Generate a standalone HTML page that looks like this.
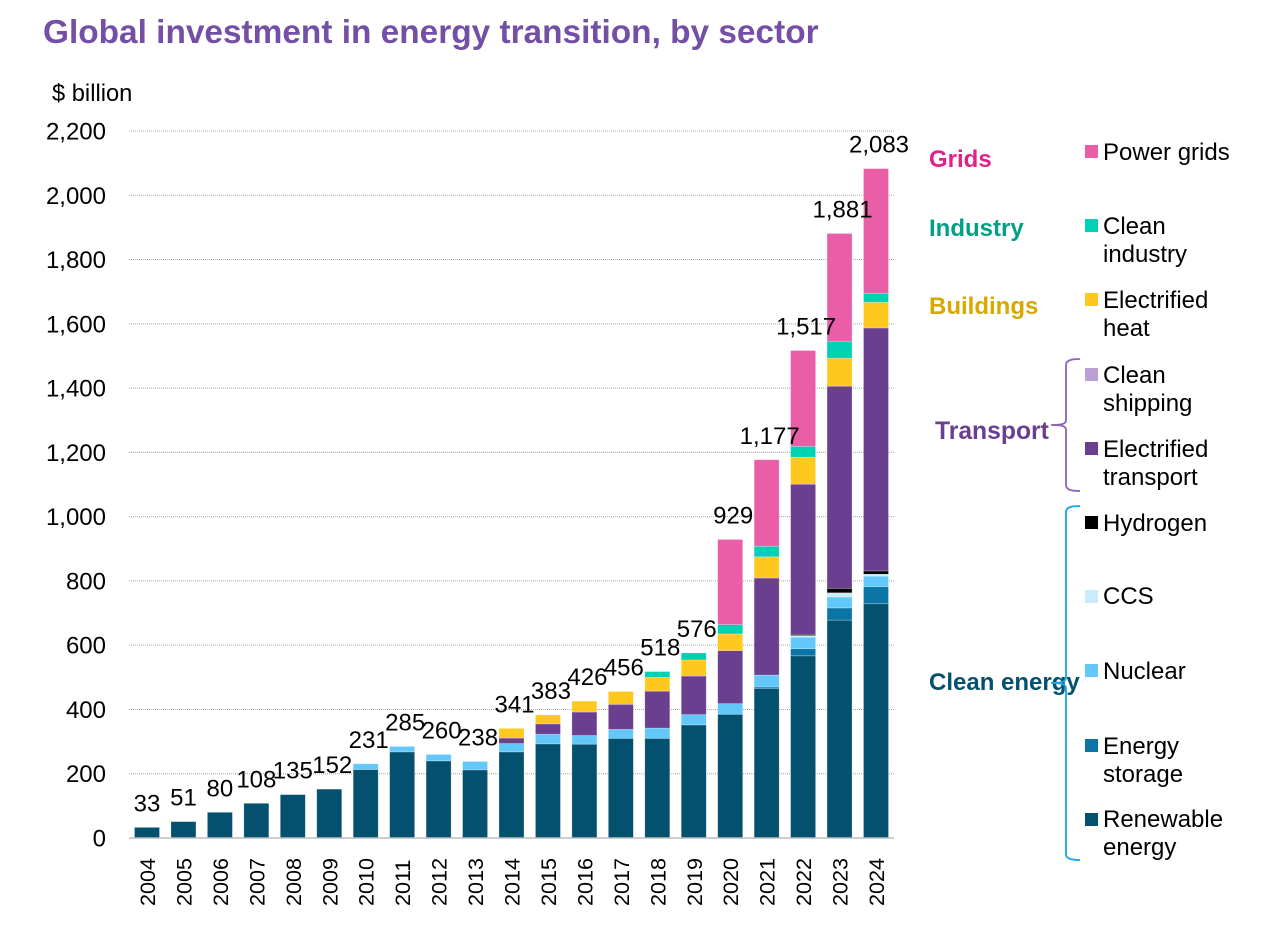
<!DOCTYPE html>
<html lang="en">
<head>
<meta charset="utf-8">
<title>Global investment in energy transition, by sector</title>
<style>
html,body{margin:0;padding:0;background:#fff;}
svg{display:block;font-family:"Liberation Sans",Arial,sans-serif;}
</style>
</head>
<body>
<svg id="chart" xmlns="http://www.w3.org/2000/svg" width="1262" height="940" viewBox="0 0 1262 940">
  <text x="43" y="43" font-size="33.4" font-weight="700" fill="#7350a5">Global investment in energy transition, by sector</text>
  <text x="52" y="101" font-size="23.7" fill="#000">$ billion</text>
  <g id="grid"></g>
  <g id="bars"></g>
  <g id="axes"></g>
  <g id="labels"></g>

  <g font-size="24" fill="#000">
    <g><rect x="1085" y="145" width="13" height="13" fill="#ea5ea8"/><text x="1103" y="160">Power grids</text></g>
    <g><rect x="1085" y="219" width="13" height="13" fill="#00d1b2"/><text x="1103" y="234">Clean</text><text x="1103" y="262">industry</text></g>
    <g><rect x="1085" y="293" width="13" height="13" fill="#ffc81e"/><text x="1103" y="308">Electrified</text><text x="1103" y="336">heat</text></g>
    <g><rect x="1085" y="368" width="13" height="13" fill="#b8a0d4"/><text x="1103" y="383">Clean</text><text x="1103" y="411">shipping</text></g>
    <g><rect x="1085" y="442" width="13" height="13" fill="#6a3f8f"/><text x="1103" y="457">Electrified</text><text x="1103" y="485">transport</text></g>
    <g><rect x="1085" y="516" width="13" height="13" fill="#000"/><text x="1103" y="531">Hydrogen</text></g>
    <g><rect x="1085" y="590" width="13" height="13" fill="#c9ecfb"/><text x="1103" y="604">CCS</text></g>
    <g><rect x="1085" y="664" width="13" height="13" fill="#62c8fa"/><text x="1103" y="679">Nuclear</text></g>
    <g><rect x="1085" y="739" width="13" height="13" fill="#0b76a6"/><text x="1103" y="754">Energy</text><text x="1103" y="782">storage</text></g>
    <g><rect x="1085" y="813" width="13" height="13" fill="#04506f"/><text x="1103" y="827">Renewable</text><text x="1103" y="855">energy</text></g>
  </g>

  <g font-size="24" font-weight="700">
    <text x="929" y="167" fill="#e0218a">Grids</text>
    <text x="929" y="236" fill="#00a088">Industry</text>
    <text x="929" y="314" fill="#d6a800">Buildings</text>
    <text x="935" y="439" font-size="24.7" fill="#6a3f8f">Transport</text>
    <text x="929" y="690" fill="#04506f">Clean energy</text>
  </g>
  <path d="M1080 359 C1072 359 1066 360 1066 365 L1066 420 C1066 424 1062 425 1051 425 C1062 425 1066 426 1066 430 L1066 485 C1066 490 1072 491 1080 491" fill="none" stroke="#8e63b5" stroke-width="1.8"/>
  <path d="M1080 506 C1072 506 1066 507 1066 512 L1066 677 C1066 682 1062 683 1051 683 C1062 683 1066 684 1066 689 L1066 854 C1066 859 1072 860 1080 860" fill="none" stroke="#17a5e6" stroke-width="1.8"/>
</svg>
<script>
const years = [2004,2005,2006,2007,2008,2009,2010,2011,2012,2013,2014,2015,2016,2017,2018,2019,2020,2021,2022,2023,2024];
const yTicks = [0,200,400,600,800,1000,1200,1400,1600,1800,2000,2200];
const renewable = [33,51,80,108,135,152,213,268,240,212,268,293,292,310,310,352,385,465,567,678,729];
const storage = [0,0,0,0,0,0,0,0,0,0,0,0,0,0,0,0,0,5,22,38,53];
const nuclear = [0,0,0,0,0,0,18,17,20,26,26,30,27,28,32,32,33,37,36,34,33];
const ccs = [0,0,0,0,0,0,0,0,0,0,0,0,0,0,0,0,0,0,5,13,6];
const hydrogen = [0,0,0,0,0,0,0,0,0,0,0,0,0,0,0,0,0,0,4,14,10];
const transport = [0,0,0,0,0,0,0,0,0,0,17,32,73,78,115,120,165,302,467,629,756];
const shipping = [0,0,0,0,0,0,0,0,0,0,0,0,0,0,0,0,0,0,0,0,0];
const heat = [0,0,0,0,0,0,0,0,0,0,30,28,34,40,43,50,52,66,84,87,80];
const industry = [0,0,0,0,0,0,0,0,0,0,0,0,0,0,18,22,29,33,34,53,28];
const grids = [0,0,0,0,0,0,0,0,0,0,0,0,0,0,0,0,265,269,298,335,388];
const totals = [33,51,80,108,135,152,231,285,260,238,341,383,426,456,518,576,929,1177,1517,1881,2083];

const stackSeries = [
  ['renewable', renewable, '#04506f'],
  ['storage', storage, '#0b76a6'],
  ['nuclear', nuclear, '#62c8fa'],
  ['ccs', ccs, '#c9ecfb'],
  ['hydrogen', hydrogen, '#000000'],
  ['transport', transport, '#6a3f8f'],
  ['shipping', shipping, '#b8a0d4'],
  ['heat', heat, '#ffc81e'],
  ['industry', industry, '#00d1b2'],
  ['grids', grids, '#ea5ea8']
];

const NS = 'http://www.w3.org/2000/svg';
const plot = {left:129, right:894, zeroY:838, topY:131, maxVal:2200, firstX:147, stepX:36.45, barW:25};
function yScale(v){ return plot.zeroY - v * (plot.zeroY - plot.topY) / plot.maxVal; }
function xScale(i){ return plot.firstX + i * plot.stepX; }
function make(tag, attrs, parent){
  const el = document.createElementNS(NS, tag);
  for (const k in attrs) el.setAttribute(k, attrs[k]);
  parent.appendChild(el);
  return el;
}
const gridG = document.getElementById('grid');
const barsG = document.getElementById('bars');
const axesG = document.getElementById('axes');
const labelsG = document.getElementById('labels');

yTicks.forEach(function(t){
  if (t > 0) {
    const line = make('line', {x1:plot.left, x2:plot.right, y1:yScale(t), y2:yScale(t), stroke:'#a8a8a8', 'stroke-width':1, 'stroke-dasharray':'1 1'}, gridG);
    
    
  }
  const tl = make('text', {x:106, y:yScale(t)+8.5, 'text-anchor':'end', 'font-size':24, fill:'#000'}, axesG);
  tl.textContent = t.toLocaleString('en-US');
  
  
});

const axisLine = make('line', {x1:plot.left, x2:plot.right, y1:plot.zeroY, y2:plot.zeroY, stroke:'#bdbdbd', 'stroke-width':1.5}, axesG);



years.forEach(function(year, i){
  let cum = 0;
  const x = xScale(i) - plot.barW / 2;
  stackSeries.forEach(function(s){
    const v = s[1][i];
    if (!v) return;
    const y1 = yScale(cum + v), y0 = yScale(cum);
    const r = make('rect', {x:x, y:y1, width:plot.barW, height:y0 - y1, fill:s[2], stroke:'#ffffff', 'stroke-opacity':0.35, 'stroke-width':0.7}, barsG);
    
    
    cum += v;
  });
  const tx = xScale(i);
  const yl = make('text', {transform:'translate(' + (tx + 8) + ',906) rotate(-90)', 'font-size':21.6, fill:'#000'}, axesG);
  yl.textContent = year;
  
  
  const labelDx = totals[i] < 150 ? 0 : 3;
  const lb = make('text', {x:tx + labelDx, y:yScale(totals[i]) - 16, 'text-anchor':'middle', 'font-size':24, fill:'#000'}, labelsG);
  lb.textContent = totals[i].toLocaleString('en-US');
  
  
});
</script>
</body>
</html>
